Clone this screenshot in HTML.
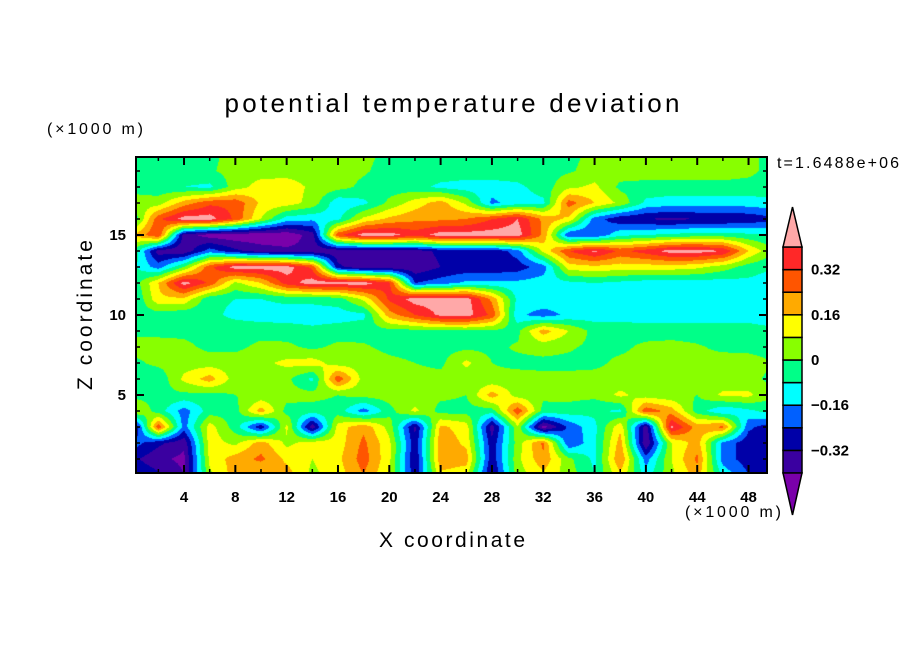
<!DOCTYPE html>
<html><head><meta charset="utf-8">
<style>
html,body{margin:0;padding:0;background:#fff;}
#wrap{position:relative;width:904px;height:654px;overflow:hidden;background:#fff;}
#field{position:absolute;left:0;top:0;}
#over{position:absolute;left:0;top:0;}
text{font-family:"Liberation Sans","DejaVu Sans",sans-serif;fill:#000;}
</style></head>
<body>
<div id="wrap">
<canvas id="field" width="904" height="654"></canvas>
<svg id="over" width="904" height="654">
  <text x="452" y="112" text-anchor="middle" font-size="26" textLength="455" lengthAdjust="spacing">potential temperature deviation</text>
  <text x="47" y="134" font-size="16" textLength="96" lengthAdjust="spacing">(×1000 m)</text>
  <text x="685" y="517" font-size="16" textLength="96" lengthAdjust="spacing">(×1000 m)</text>
  <text x="452" y="547" text-anchor="middle" font-size="21" textLength="146" lengthAdjust="spacing">X coordinate</text>
  <text x="0" y="0" transform="translate(92,315) rotate(-90)" text-anchor="middle" font-size="21" textLength="150" lengthAdjust="spacing">Z coordinate</text>
  <text x="777" y="168" font-size="16" textLength="122" lengthAdjust="spacing">t=1.6488e+06</text>
  <g id="axes"></g>
  <g id="cbar"></g>
</svg>
</div>
<script>
const xVals = [0,2,4,6,8,10,12,14,16,18,20,22,24,26,28,30,32,34,36,38,40,42,44,46,48,50];
const zVals = [20,19,18,17,16,15,14,13,12,11,10,9,8,7,6,5,4,3,2,1,0];
const row20 = [-0.03,-0.03,-0.03,-0.02,0.03,0.04,0.04,0.04,0.03,0.02,-0.02,-0.03,-0.03,-0.03,-0.03,-0.03,-0.03,-0.02,0.02,0.04,0.04,0.04,0.04,0.04,0.02,-0.03];
const row19 = [-0.03,-0.03,-0.03,-0.01,0.03,0.04,0.04,0.04,0.03,0.01,-0.03,-0.03,-0.03,-0.03,-0.03,-0.03,-0.03,-0.01,0.03,0.04,0.04,0.04,0.04,0.04,0.02,-0.03];
const row18 = [-0.03,-0.05,-0.08,-0.1,0.04,0.12,0.13,0.06,0.03,-0.02,-0.04,-0.05,-0.1,-0.12,-0.12,-0.1,-0.04,0.06,0.1,-0.02,-0.03,-0.03,-0.03,-0.03,-0.03,-0.03];
const row17 = [0.04,0.04,0.2,0.3,0.3,0.14,0.12,0.05,-0.14,-0.1,0.02,0.12,0.2,0.06,-0.18,-0.12,-0.1,0.28,0.16,0.06,-0.1,-0.12,-0.12,-0.12,-0.12,-0.1];
const row16 = [-0.08,0.3,0.44,0.44,0.3,0.08,-0.12,-0.14,-0.1,0.1,0.18,0.22,0.22,0.24,0.32,0.4,0.22,0.14,-0.2,-0.3,-0.32,-0.34,-0.32,-0.32,-0.3,-0.26];
const row15 = [0.16,0.32,-0.36,-0.44,-0.46,-0.46,-0.46,-0.36,0.3,0.44,0.44,0.36,0.44,0.44,0.44,0.44,0.22,-0.24,-0.24,-0.1,-0.08,-0.06,-0.04,-0.04,-0.06,-0.08];
const row14 = [0.0,-0.36,-0.38,-0.2,-0.3,-0.36,-0.38,-0.38,-0.38,-0.38,-0.38,-0.36,-0.3,-0.3,-0.3,-0.2,0.1,0.32,0.42,0.3,0.36,0.44,0.44,0.4,0.16,0.0];
const row13 = [-0.06,-0.2,0.0,0.3,0.44,0.44,0.44,0.3,-0.3,-0.38,-0.38,-0.38,-0.32,-0.3,-0.3,-0.28,-0.2,0.12,0.14,0.12,0.12,0.12,0.1,0.04,-0.04,-0.08];
const row12 = [-0.06,0.16,0.44,0.3,0.06,0.16,0.36,0.44,0.44,0.44,0.34,-0.24,-0.2,-0.14,-0.14,-0.14,-0.12,-0.1,-0.08,-0.1,-0.12,-0.12,-0.12,-0.12,-0.1,-0.12];
const row11 = [-0.1,0.14,0.14,-0.06,-0.08,-0.08,-0.06,-0.06,-0.04,0.1,0.34,0.44,0.44,0.44,0.22,-0.1,-0.1,-0.12,-0.12,-0.12,-0.12,-0.12,-0.12,-0.12,-0.12,-0.12];
const row10 = [-0.04,-0.04,-0.06,-0.06,-0.1,-0.12,-0.12,-0.12,-0.12,-0.1,0.2,0.32,0.42,0.44,0.3,-0.14,-0.2,-0.14,-0.12,-0.12,-0.12,-0.12,-0.12,-0.12,-0.12,-0.14];
const row9  = [-0.02,-0.02,-0.02,-0.03,-0.03,-0.03,-0.04,-0.06,-0.04,-0.03,-0.03,-0.03,-0.02,-0.02,-0.02,-0.02,0.2,0.08,-0.03,-0.03,-0.04,-0.04,-0.04,-0.04,-0.04,-0.06];
const row8  = [0.03,0.03,0.02,-0.02,-0.02,0.02,0.02,-0.02,0.02,0.01,-0.02,-0.03,-0.03,-0.02,-0.02,0.01,0.03,0.01,-0.02,-0.02,0.02,0.03,0.01,-0.02,-0.02,-0.03];
const row7  = [-0.02,0.02,0.04,0.04,0.04,0.06,0.1,0.12,0.04,0.04,0.02,0.0,-0.02,0.1,0.0,-0.02,-0.02,-0.02,-0.02,0.02,0.03,0.03,0.02,0.04,0.03,0.0];
const row6  = [-0.03,-0.06,0.1,0.2,0.04,0.04,0.02,-0.1,0.3,0.04,0.02,0.03,0.03,0.03,0.02,0.03,0.02,0.02,0.03,0.03,0.02,0.02,0.02,0.02,0.02,-0.02];
const row5  = [-0.03,-0.02,-0.02,-0.03,0.0,0.02,0.03,0.03,0.0,0.03,0.04,0.02,0.02,0.0,0.2,0.04,0.02,0.03,0.02,0.1,0.04,0.02,0.0,0.1,0.1,0.0];
const row4  = [0.1,-0.04,-0.2,-0.04,-0.03,0.2,-0.03,-0.04,-0.04,-0.2,-0.03,0.1,-0.03,-0.03,-0.04,0.3,-0.03,-0.04,-0.06,-0.1,0.3,0.2,-0.04,-0.15,-0.1,-0.04];
const row3  = [-0.4,0.3,-0.2,0.12,-0.04,-0.3,0.1,-0.38,0.12,0.22,0.05,-0.34,0.18,0.12,-0.36,0.06,-0.44,-0.22,-0.1,0.14,-0.38,0.42,0.2,0.26,-0.22,-0.3];
const row2  = [-0.2,-0.3,-0.38,0.12,0.06,0.2,0.06,0.12,0.12,0.26,0.1,-0.3,0.22,0.14,-0.3,0.04,0.26,-0.24,-0.1,0.2,-0.4,0.08,0.2,-0.18,-0.3,-0.26];
const row1  = [-0.3,-0.38,-0.42,0.1,0.2,0.26,0.14,0.08,0.14,0.28,0.1,-0.32,0.22,0.2,-0.3,0.06,0.22,0.02,-0.1,0.24,-0.2,0.08,0.26,-0.2,-0.28,-0.3];
const row0  = [-0.24,-0.3,-0.4,0.06,0.2,0.14,0.2,0.06,0.12,0.24,0.08,-0.3,0.14,0.1,-0.34,0.04,0.14,0.04,-0.08,0.14,-0.12,0.06,0.2,-0.1,-0.24,-0.28];
const field = [row20,row19,row18,row17,row16,row15,row14,row13,row12,row11,row10,row9,row8,row7,row6,row5,row4,row3,row2,row1,row0];
const levels = [-0.40,-0.32,-0.24,-0.16,-0.08,0,0.08,0.16,0.24,0.32,0.40];
const levelColors = ["#7a00aa","#3a00a0","#0000a8","#0060ff","#00ffff","#00ff88","#88ff00","#ffff00","#ffaa00","#ff5500","#ff2828","#ffa8a8"];
const cbarLabels = ["-0.32","-0.16","0","0.16","0.32"];
const cbarLabelValues = [-0.32,-0.16,0,0.16,0.32];
const xTicksMajor = [4,8,12,16,20,24,28,32,36,40,44,48];
const xTicksMinor = [2,6,10,14,18,22,26,30,34,38,42,46,50];
const zTicksMajor = [5,10,15];
const zTicksMinor = [1,2,3,4,6,7,8,9,11,12,13,14,16,17,18,19];

const PL=136, PT=157, PR=767, PB=473;
function xs(x){return 132.7 + 12.83*x;}
function zs(z){return 475 - 16*z;}
function xInv(px){return (px-132.7)/12.83;}
function zInv(py){return (475-py)/16;}
function hexRGB(h){return [parseInt(h.substr(1,2),16),parseInt(h.substr(3,2),16),parseInt(h.substr(5,2),16)];}
const rgbs = levelColors.map(hexRGB);
function sample(x,z){
  const xi = Math.max(0,Math.min(xVals.length-1.0001,(x-xVals[0])/(xVals[1]-xVals[0])));
  const zi = Math.max(0,Math.min(zVals.length-1.0001,(zVals[0]-z)/(zVals[0]-zVals[1])));
  const i0=Math.floor(xi), j0=Math.floor(zi), fx=xi-i0, fz=zi-j0;
  const a=field[j0][i0], b=field[j0][i0+1], c=field[j0+1][i0], d=field[j0+1][i0+1];
  return (a*(1-fx)+b*fx)*(1-fz)+(c*(1-fx)+d*fx)*fz;
}
function colorIndex(v){let k=0;while(k<levels.length && v>=levels[k])k++;return k;}

const cv=document.getElementById('field');
const ctx=cv.getContext('2d');
const img=ctx.createImageData(PR-PL,PB-PT);
for(let py=PT;py<PB;py++){
  for(let px=PL;px<PR;px++){
    const v=sample(xInv(px+0.5),zInv(py+0.5));
    const c=rgbs[colorIndex(v)];
    const o=((py-PT)*(PR-PL)+(px-PL))*4;
    img.data[o]=c[0];img.data[o+1]=c[1];img.data[o+2]=c[2];img.data[o+3]=255;
  }
}
ctx.putImageData(img,PL,PT);

const NS="http://www.w3.org/2000/svg";
function mk(tag,attrs,parent){const e=document.createElementNS(NS,tag);for(const k in attrs)e.setAttribute(k,attrs[k]);parent.appendChild(e);return e;}
const axes=document.getElementById('axes');
const frame=mk('rect',{x:PL,y:PT,width:PR-PL,height:PB-PT,fill:'none',stroke:'#000','stroke-width':2},axes);


xTicksMajor.forEach(function(t){
  const x=xs(t);
  const l1=mk('line',{x1:x,y1:PB,x2:x,y2:PB-8,stroke:'#000','stroke-width':2},axes);
  
  
  const l2=mk('line',{x1:x,y1:PT,x2:x,y2:PT+8,stroke:'#000','stroke-width':2},axes);
  
  
  const tx=mk('text',{x:x,y:502,'text-anchor':'middle','font-size':15,'font-weight':'bold'},axes);
  tx.textContent=String(t);
  
  
});
xTicksMinor.forEach(function(t){
  const x=xs(t); if(x>PR) return;
  const l1=mk('line',{x1:x,y1:PB,x2:x,y2:PB-4,stroke:'#000','stroke-width':1.5},axes);
  
  
  const l2=mk('line',{x1:x,y1:PT,x2:x,y2:PT+4,stroke:'#000','stroke-width':1.5},axes);
  
  
});
zTicksMajor.forEach(function(t){
  const y=zs(t);
  const l1=mk('line',{x1:PL,y1:y,x2:PL+8,y2:y,stroke:'#000','stroke-width':2},axes);
  
  
  const l2=mk('line',{x1:PR,y1:y,x2:PR-8,y2:y,stroke:'#000','stroke-width':2},axes);
  
  
  const tx=mk('text',{x:126,y:y+5,'text-anchor':'end','font-size':15,'font-weight':'bold'},axes);
  tx.textContent=String(t);
  
  
});
zTicksMinor.forEach(function(t){
  const y=zs(t);
  const l1=mk('line',{x1:PL,y1:y,x2:PL+4,y2:y,stroke:'#000','stroke-width':1.5},axes);
  
  
  const l2=mk('line',{x1:PR,y1:y,x2:PR-4,y2:y,stroke:'#000','stroke-width':1.5},axes);
  
  
});

const cb=document.getElementById('cbar');
const CBL=783, CBR=802, CBT=247, CBB=473;
const nBox=levels.length-1;
const bh=(CBB-CBT)/nBox;
function cbY(v){return CBB-(v-levels[0])/(levels[levels.length-1]-levels[0])*(CBB-CBT);}
for(let i=0;i<nBox;i++){
  const r=mk('rect',{x:CBL,y:cbY(levels[i+1]),width:CBR-CBL,height:bh,fill:levelColors[i+1],stroke:'#000','stroke-width':1.5},cb);
  
  
}
const cx=(CBL+CBR)/2;
const tTop=mk('polygon',{points:CBL+','+CBT+' '+CBR+','+CBT+' '+cx+',207',fill:levelColors[levelColors.length-1],stroke:'#000','stroke-width':1.5},cb);


const tBot=mk('polygon',{points:CBL+','+CBB+' '+CBR+','+CBB+' '+cx+',515',fill:levelColors[0],stroke:'#000','stroke-width':1.5},cb);


cbarLabels.forEach(function(lab,i){
  const t=mk('text',{x:811,y:cbY(cbarLabelValues[i])+5,'font-size':15,'font-weight':'bold'},cb);
  t.textContent=lab.replace('-','\u2212');
  
  
});
</script>
</body></html>
